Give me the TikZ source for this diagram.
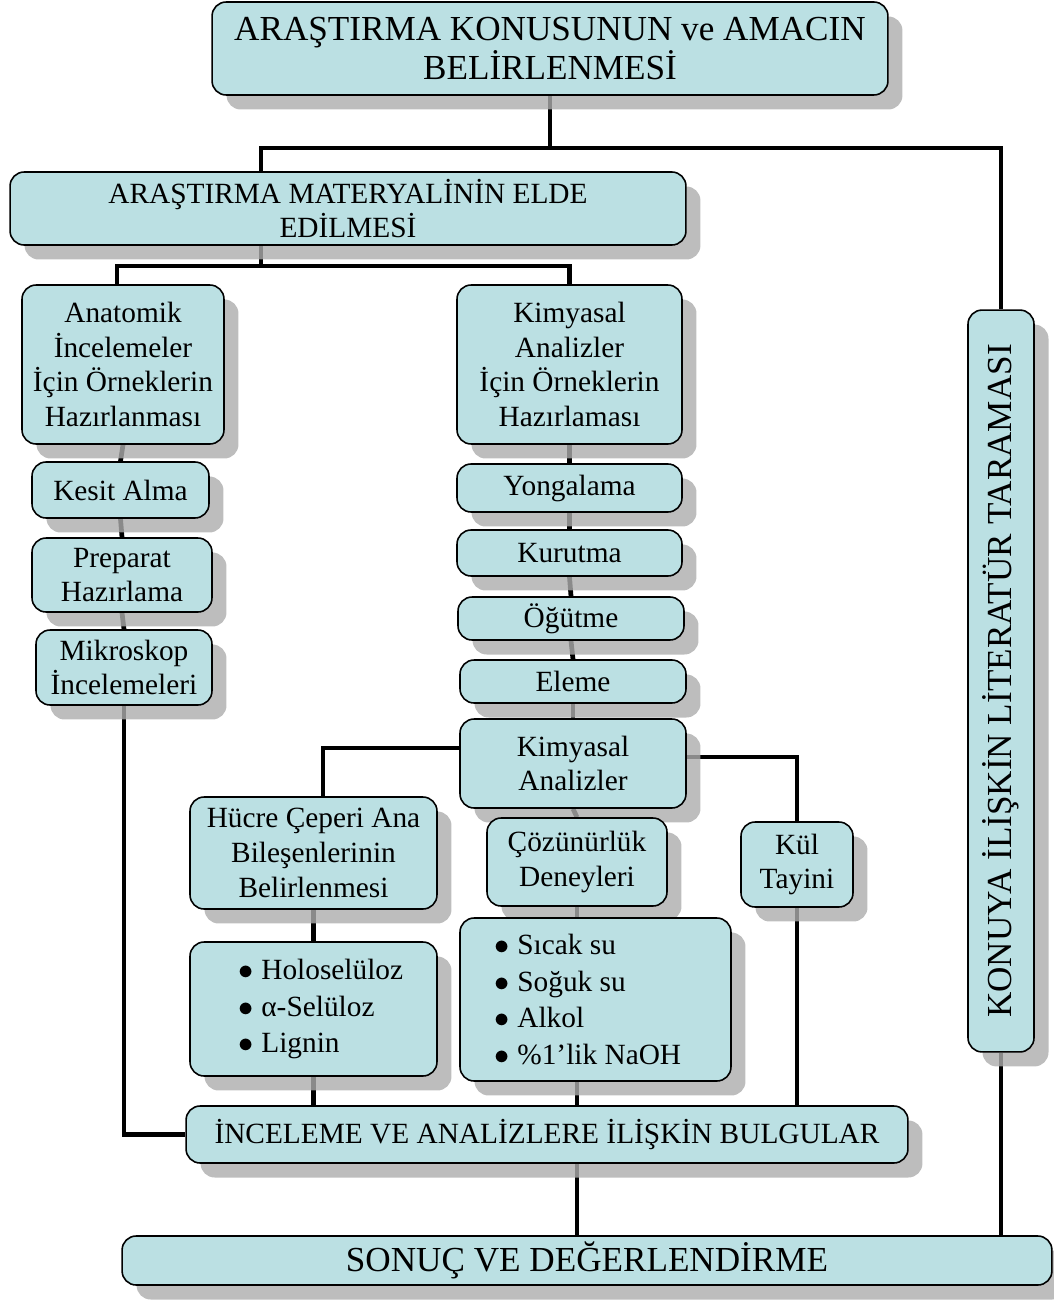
\documentclass[tikz,border=0pt]{standalone}
\usepackage{fontspec}
\setmainfont{Liberation Serif}
\usepackage{graphicx}
\usetikzlibrary{shadows,backgrounds,positioning}

\definecolor{boxfill}{RGB}{187,224,227}
\newcommand{\blt}{$\bullet$\ }
\tikzset{
  box/.style={draw=black, line width=0.9pt, fill=boxfill, rounded corners=8pt,
    align=center, inner sep=0pt, font=\fontsize{16.7}{19.8}\selectfont,
    drop shadow={shadow xshift=0.29cm, shadow yshift=-0.29cm, fill=black!32, opacity=.8}},
  bigbox/.style={box, font=\fontsize{20}{22.7}\selectfont},
  listbox/.style={box, align=left, font=\fontsize{16.7}{21}\selectfont},
  link/.style={line width=2.7pt, black}
}

\begin{document}
\begin{tikzpicture}[x=0.02cm, y=0.02cm]
    \useasboundingbox (0,0) rectangle (1054,-1301);

    % top
    \node[bigbox, minimum width=13.52cm, minimum height=1.86cm] (konu) at (550,-48.5) {ARAŞTIRMA KONUSUNUN ve AMACIN\\BELİRLENMESİ};
    \node[box, minimum width=13.52cm, minimum height=1.46cm] (materyal) at (348,-208.5) {ARAŞTIRMA MATERYALİNİN ELDE\\EDİLMESİ};
    \node[bigbox, minimum width=1.32cm, minimum height=14.84cm] (konuya) at (1001,-681) {\rotatebox{90}{KONUYA İLİŞKİN LİTERATÜR TARAMASI}};

    % anatomy branch
    \node[box, minimum width=4.04cm, minimum height=3.18cm] (anatomik) at (123,-364.5) {Anatomik\\İncelemeler\\İçin Örneklerin\\Hazırlanması};
    \node[box, minimum width=3.54cm, minimum height=1.12cm] (kesit) at (120.5,-490) {Kesit Alma};
    \node[box, minimum width=3.6cm, minimum height=1.48cm] (preparat) at (122,-575) {Preparat\\Hazırlama};
    \node[box, minimum width=3.52cm, minimum height=1.5cm] (mikroskop) at (124,-667.5) {Mikroskop\\İncelemeleri};

    % chemistry branch
    \node[box, minimum width=4.5cm, minimum height=3.18cm] (kimhaz) at (569.5,-364.5) {Kimyasal\\Analizler\\İçin Örneklerin\\Hazırlaması};
    \node[box, minimum width=4.5cm, minimum height=0.96cm] (yongalama) at (569.5,-488) {Yongalama};
    \node[box, minimum width=4.5cm, minimum height=0.92cm] (kurutma) at (569.5,-553) {Kurutma};
    \node[box, minimum width=4.52cm, minimum height=0.86cm] (ogutme) at (571,-618.5) {Öğütme};
    \node[box, minimum width=4.52cm, minimum height=0.86cm] (eleme) at (573,-681.5) {Eleme};
    \node[box, minimum width=4.52cm, minimum height=1.78cm] (kimanaliz) at (573,-763.5) {Kimyasal\\Analizler};

    \node[box, minimum width=4.94cm, minimum height=2.24cm] (hucre) at (313.5,-853) {Hücre Çeperi Ana\\Bileşenlerinin\\Belirlenmesi};
    \node[box, minimum width=3.6cm, minimum height=1.76cm] (cozun) at (577,-862) {Çözünürlük\\Deneyleri};
    \node[box, minimum width=2.24cm, minimum height=1.7cm] (kul) at (797,-864.5) {Kül\\Tayini};

    \node[listbox, minimum width=4.94cm, minimum height=2.68cm] (bilesen) at (313.5,-1009) {\hspace*{0.3cm}\blt Holoselüloz\\\hspace*{0.3cm}\blt α-Selüloz\\\hspace*{0.3cm}\blt Lignin};
    \node[listbox, minimum width=5.42cm, minimum height=3.26cm] (sicak) at (595.5,-999.5) {\blt Sıcak su\\\blt Soğuk su\\\blt Alkol\\\blt \%1’lik NaOH\hspace*{0.3cm}};

    % bottom
    \node[box, minimum width=14.44cm, minimum height=1.14cm] (bulgular) at (547,-1134.5) {İNCELEME VE ANALİZLERE İLİŞKİN BULGULAR};
    \node[bigbox, minimum width=18.6cm, minimum height=0.98cm] (sonuc) at (587,-1260.5) {SONUÇ VE DEĞERLENDİRME};

    \coordinate (j1) at (549,-148);
    \coordinate (m1) at (261,-148);
    \coordinate (j2) at (261,-266);

    \begin{pgfonlayer}{background}
    \draw[link] (konu.south) |- (m1) -- (m1 |- materyal.north);
    \draw[link] (j1) -| (konuya.north);
    \draw[link] (m1 |- materyal.south) -- (j2);
    \draw[link] ([xshift=-0.12cm]anatomik.north) |- (kimhaz.north |- j2) -- (kimhaz.north);

    \draw[link] (anatomik.south) -- (kesit.north);
    \draw[link] (kesit.south) -- (preparat.north);
    \draw[link] (preparat.south) -- (mikroskop.north);
    \draw[link] (mikroskop.south) |- (bulgular.west);

    \draw[link] (kimhaz.south) -- (yongalama.north);
    \draw[link] (yongalama.south) -- (kurutma.north);
    \draw[link] (kurutma.south) -- (ogutme.north);
    \draw[link] (ogutme.south) -- (eleme.north);
    \draw[link] (eleme.south) -- (kimanaliz.north);

    \draw[link] ([yshift=0.31cm]kimanaliz.west) -| ([xshift=0.19cm]hucre.north);
    \draw[link] ([yshift=0.13cm]kimanaliz.east) -| (kul.north);
    \draw[link] (kimanaliz.south) -- (cozun.north);
    \draw[link] (cozun.south) -- (cozun.south |- sicak.north);
    \draw[link] (hucre.south) -- (bilesen.north);

    \draw[link] (bilesen.south) -- (bilesen.south |- bulgular.north);
    \draw[link] (cozun.south |- sicak.south) -- (cozun.south |- bulgular.north);
    \draw[link] (kul.south) -- (kul.south |- bulgular.north);
    \draw[link] (cozun.south |- bulgular.south) -- (cozun.south |- sonuc.north);
    \draw[link] (konuya.south) -- (konuya.south |- sonuc.north);
    \end{pgfonlayer}
\end{tikzpicture}
\end{document}
